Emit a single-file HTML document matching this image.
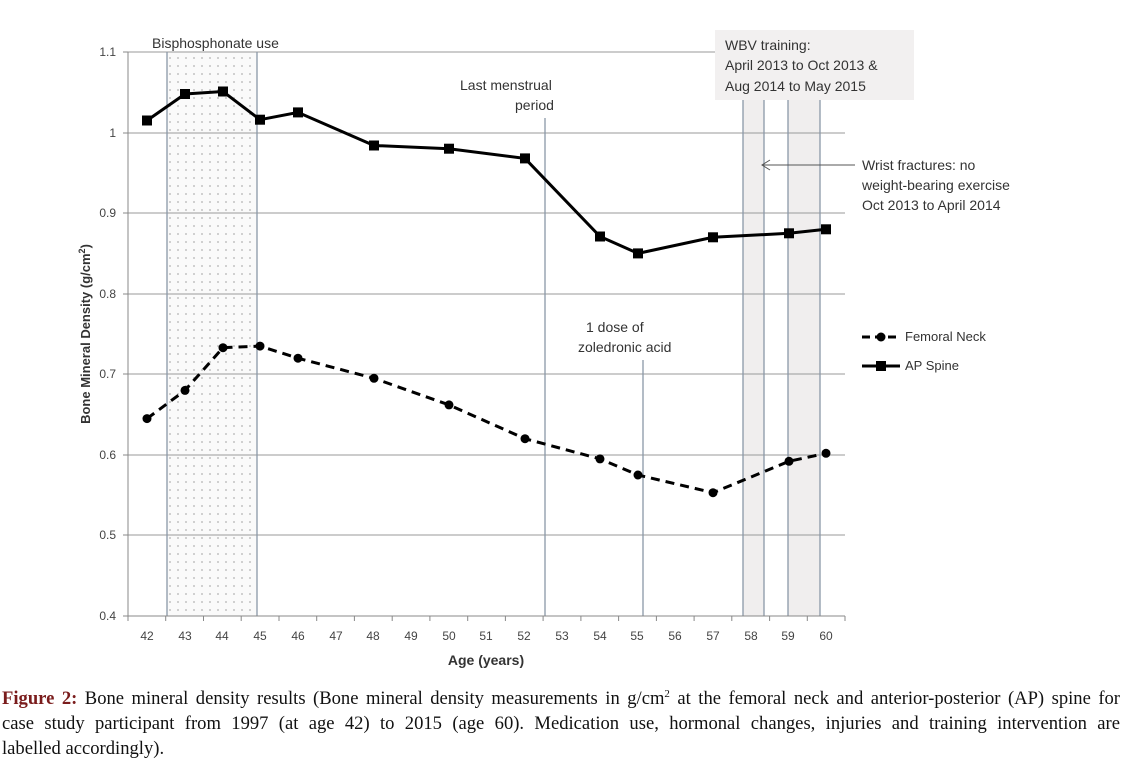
<!DOCTYPE html>
<html><head><meta charset="utf-8"><style>
body{margin:0;background:#fff;width:1126px;height:778px;overflow:hidden}
.cap{position:absolute;left:2px;top:686px;width:1118px;font-family:"Liberation Serif",serif;font-size:18.6px;line-height:25px;color:#111}
.j{text-align:justify;text-align-last:justify;white-space:nowrap}
</style></head><body>
<svg width="1126" height="680" style="position:absolute;left:0;top:0" font-family="Liberation Sans, sans-serif">
<defs><pattern id="dots" width="8" height="8" patternUnits="userSpaceOnUse"><circle cx="2" cy="2" r="0.6" fill="#666"/></pattern></defs>
<rect x="167" y="52" width="90" height="564" fill="#fafafa"/>
<rect x="167" y="52" width="90" height="564" fill="url(#dots)"/>
<rect x="743" y="100" width="21" height="516" fill="#f0eeee"/>
<rect x="788" y="100" width="32" height="516" fill="#f0eeee"/>
<g stroke="#999" stroke-width="1">
<line x1="128" y1="52" x2="845" y2="52"/><line x1="128" y1="133" x2="845" y2="133"/><line x1="128" y1="213" x2="845" y2="213"/><line x1="128" y1="294" x2="845" y2="294"/><line x1="128" y1="374" x2="845" y2="374"/><line x1="128" y1="455" x2="845" y2="455"/><line x1="128" y1="535" x2="845" y2="535"/>
</g>
<g stroke="#8a98a8" stroke-width="1.3">
<line x1="167" y1="52" x2="167" y2="616"/><line x1="257" y1="52" x2="257" y2="616"/>
<line x1="545" y1="118" x2="545" y2="616"/><line x1="643" y1="360" x2="643" y2="616"/>
<line x1="743" y1="100" x2="743" y2="616"/><line x1="764" y1="100" x2="764" y2="616"/><line x1="788" y1="100" x2="788" y2="616"/><line x1="820" y1="100" x2="820" y2="616"/>
</g>
<g stroke="#888" stroke-width="1">
<line x1="128" y1="52" x2="128" y2="616"/><line x1="128" y1="616" x2="845" y2="616"/>
<line x1="123" y1="52" x2="128" y2="52"/><line x1="123" y1="133" x2="128" y2="133"/><line x1="123" y1="213" x2="128" y2="213"/><line x1="123" y1="294" x2="128" y2="294"/><line x1="123" y1="374" x2="128" y2="374"/><line x1="123" y1="455" x2="128" y2="455"/><line x1="123" y1="535" x2="128" y2="535"/><line x1="123" y1="616" x2="128" y2="616"/>
<path d="M128 616v5M165.7 616v5M203.5 616v5M241.2 616v5M279 616v5M316.7 616v5M354.4 616v5M392.2 616v5M429.9 616v5M467.7 616v5M505.4 616v5M543.1 616v5M580.9 616v5M618.6 616v5M656.4 616v5M694.1 616v5M731.8 616v5M769.6 616v5M807.3 616v5M845 616v5"/>
</g>
<g font-size="12" fill="#444" text-anchor="end">
<text x="116" y="56">1.1</text><text x="116" y="137">1</text><text x="116" y="217">0.9</text><text x="116" y="298">0.8</text><text x="116" y="378">0.7</text><text x="116" y="459">0.6</text><text x="116" y="539">0.5</text><text x="116" y="620">0.4</text>
</g>
<g font-size="12" fill="#444" text-anchor="middle">
<text x="147" y="640">42</text><text x="185" y="640">43</text><text x="222" y="640">44</text><text x="260" y="640">45</text><text x="298" y="640">46</text><text x="336" y="640">47</text><text x="373" y="640">48</text><text x="411" y="640">49</text><text x="449" y="640">50</text><text x="486" y="640">51</text><text x="524" y="640">52</text><text x="562" y="640">53</text><text x="600" y="640">54</text><text x="637" y="640">55</text><text x="675" y="640">56</text><text x="713" y="640">57</text><text x="751" y="640">58</text><text x="788" y="640">59</text><text x="826" y="640">60</text>
</g>
<text x="486" y="665" font-size="14" font-weight="bold" fill="#333" text-anchor="middle">Age (years)</text>
<text transform="translate(90 334) rotate(-90)" font-size="13" font-weight="bold" fill="#333" text-anchor="middle">Bone Mineral Density (g/cm<tspan font-size="9" dy="-5">2</tspan><tspan dy="5">)</tspan></text>
<polyline fill="none" stroke="#000" stroke-width="3" points="147,120.5 185,94 223,91.5 260,119.7 298,112.4 374,145.5 449,148.7 525,158.4 600,236.5 638,253.4 713,237.3 789,233.3 826,229.3"/>
<g fill="#000">
<rect x="142" y="115.5" width="10" height="10"/><rect x="180" y="89" width="10" height="10"/><rect x="218" y="86.5" width="10" height="10"/><rect x="255" y="114.7" width="10" height="10"/><rect x="293" y="107.4" width="10" height="10"/><rect x="369" y="140.5" width="10" height="10"/><rect x="444" y="143.7" width="10" height="10"/><rect x="520" y="153.4" width="10" height="10"/><rect x="595" y="231.5" width="10" height="10"/><rect x="633" y="248.4" width="10" height="10"/><rect x="708" y="232.3" width="10" height="10"/><rect x="784" y="228.3" width="10" height="10"/><rect x="821" y="224.3" width="10" height="10"/>
</g>
<polyline fill="none" stroke="#000" stroke-width="3" stroke-dasharray="9,6" points="147,418.6 185,390.4 223,347.7 260,346.1 298,358.2 374,378.3 449,404.9 525,438.7 600,458.9 638,475 713,492.7 789,461.3 826,453.3"/>
<g fill="#000">
<circle cx="147" cy="418.6" r="4.5"/><circle cx="185" cy="390.4" r="4.5"/><circle cx="223" cy="347.7" r="4.5"/><circle cx="260" cy="346.1" r="4.5"/><circle cx="298" cy="358.2" r="4.5"/><circle cx="374" cy="378.3" r="4.5"/><circle cx="449" cy="404.9" r="4.5"/><circle cx="525" cy="438.7" r="4.5"/><circle cx="600" cy="458.9" r="4.5"/><circle cx="638" cy="475" r="4.5"/><circle cx="713" cy="492.7" r="4.5"/><circle cx="789" cy="461.3" r="4.5"/><circle cx="826" cy="453.3" r="4.5"/>
</g>
<line x1="862" y1="337" x2="900" y2="337" stroke="#000" stroke-width="3" stroke-dasharray="8,5"/><circle cx="881" cy="337" r="4.5"/>
<text x="905" y="341" font-size="13" fill="#333">Femoral Neck</text>
<line x1="862" y1="366" x2="900" y2="366" stroke="#000" stroke-width="3"/><rect x="876" y="361" width="10" height="10"/>
<text x="905" y="370" font-size="13" fill="#333">AP Spine</text>
<rect x="715" y="30" width="199" height="70" fill="#f2f0f0"/>
<g font-size="14" fill="#333">
<text x="152" y="48">Bisphosphonate use</text>
<text x="460" y="90">Last menstrual</text><text x="515" y="110">period</text>
<text x="586" y="332">1 dose of</text><text x="578" y="352">zoledronic acid</text>
<text x="725" y="50">WBV training:</text><text x="725" y="70">April 2013  to Oct 2013  &amp;</text><text x="725" y="91">Aug 2014  to May 2015</text>
<text x="862" y="170">Wrist fractures: no</text><text x="862" y="190">weight-bearing exercise</text><text x="862" y="210">Oct 2013  to April 2014</text>
</g>
<line x1="762" y1="165" x2="855" y2="165" stroke="#555" stroke-width="1"/>
<path d="M770 160 L762 165 L770 170" fill="none" stroke="#555" stroke-width="1"/>
</svg>
<div class="cap"><div class="j"><b style="color:#7a1c1c">Figure 2:</b> Bone mineral density results (Bone mineral density measurements in g/cm<sup style="font-size:11px;line-height:0">2</sup> at the femoral neck and anterior-posterior (AP) spine for</div><div class="j">case study participant from 1997 (at age 42) to 2015 (age 60). Medication use, hormonal changes, injuries and training intervention are</div><div>labelled accordingly).</div></div>
</body></html>
